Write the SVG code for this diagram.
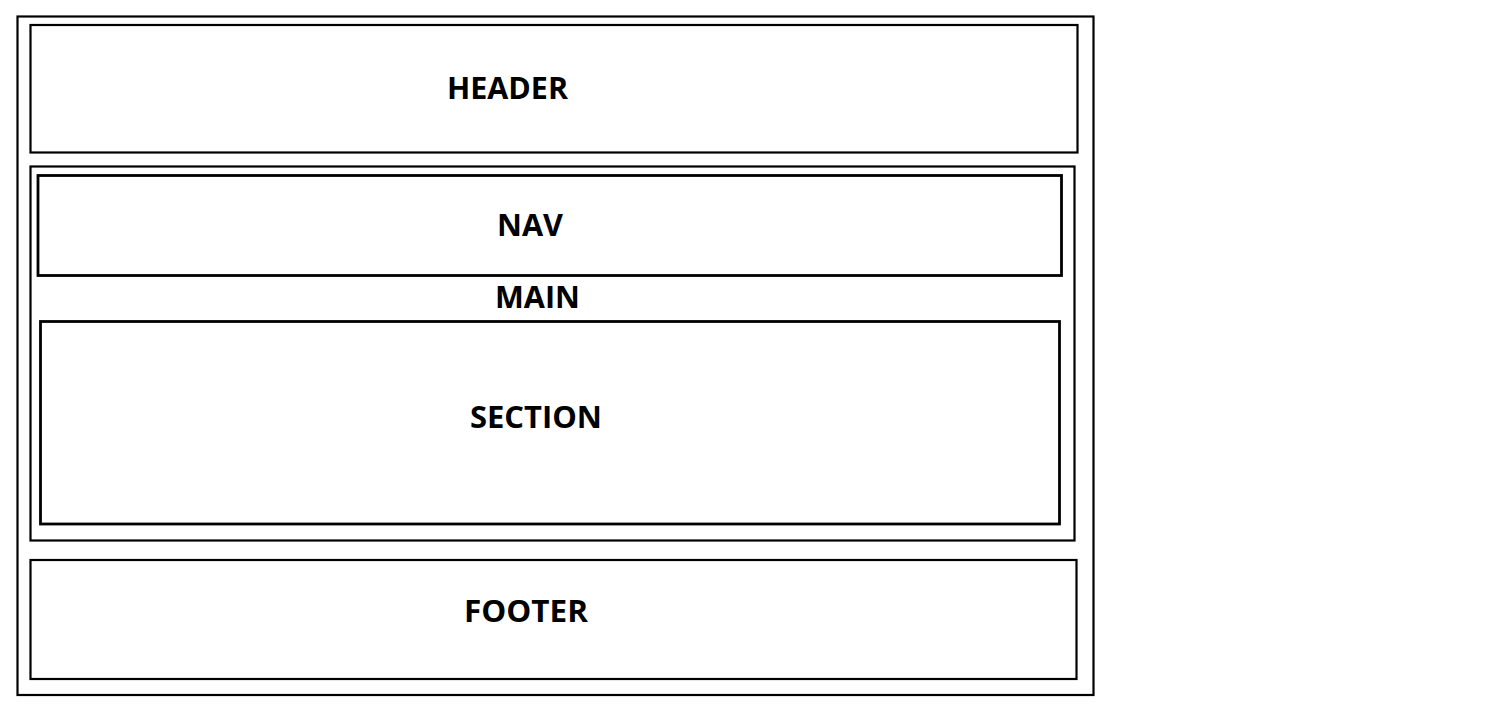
<svg xmlns="http://www.w3.org/2000/svg" width="1494" height="714" viewBox="0 0 1494 714">
<style>
.box{fill:none;stroke:#000;stroke-width:2.2}
.thick{fill:none;stroke:#000;stroke-width:2.8}
.lbl{font-family:"Open Sans","Liberation Sans",sans-serif;font-weight:bold;font-size:31px;fill:#000;text-anchor:middle}
</style>
<rect width="1494" height="714" fill="#fff"/>
<g id="page"><rect class="box" x="17.5" y="16.5" width="1076" height="678.5"/></g>
<g id="header"><rect class="box" x="30.5" y="25" width="1047" height="127.5"/><text class="lbl" x="507.5" y="98.5" textLength="121" lengthAdjust="spacingAndGlyphs">HEADER</text></g>
<g id="main"><rect class="box" x="30.5" y="166.5" width="1044" height="374"/><text class="lbl" x="537.5" y="307.5" textLength="85" lengthAdjust="spacingAndGlyphs">MAIN</text></g>
<g id="nav"><rect class="thick" x="38" y="175.5" width="1023.5" height="100"/><text class="lbl" x="530" y="235.5" textLength="66" lengthAdjust="spacingAndGlyphs">NAV</text></g>
<g id="section"><rect class="thick" x="40.5" y="321.5" width="1019" height="202.5"/><text class="lbl" x="536" y="427.5" textLength="132" lengthAdjust="spacingAndGlyphs">SECTION</text></g>
<g id="footer"><rect class="box" x="30.5" y="560" width="1046" height="119"/><text class="lbl" x="526" y="621.5" textLength="124" lengthAdjust="spacingAndGlyphs">FOOTER</text></g>
<g id="connectors"/>
</svg>
